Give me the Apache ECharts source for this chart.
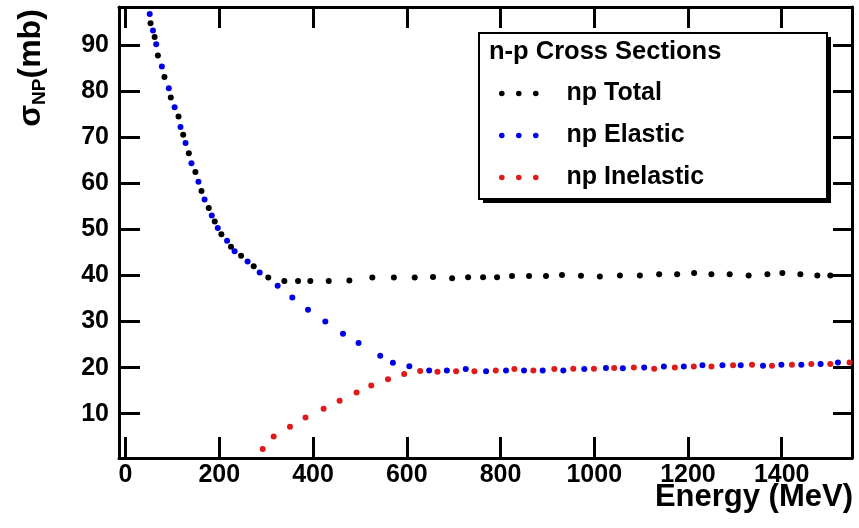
<!DOCTYPE html>
<html>
<head>
<meta charset="utf-8">
<script src="https://cdn.jsdelivr.net/npm/echarts@6/dist/echarts.min.js"></script>
<style>
html,body{margin:0;padding:0;background:#fff;}
#chart{width:859px;height:528px;}
</style>
</head>
<body>
<div id="chart"></div>
<script>
// ---- data (Energy MeV, cross section mb) ----
const npTotal = [
  [53.3,94.7],[62,91.7],[69,87.7],[83,83.0],[96.5,78.6],[113,74.45],[123,70.5],[135,66.5],
  [149,62.4],[162,58.3],[177.5,54.6],[190.3,51.7],[204.5,48.9],[225,46.2],[246.5,44.25],
  [273.4,42.0],[304.5,39.55],[338.8,38.8],[368,38.8],[394.2,38.8],[433.5,38.8],[477.5,38.9],
  [526.5,39.55],[572.5,39.55],[617,39.55],[656,39.65],[696.8,39.4],[730.9,39.6],[762.8,39.6],
  [792.7,39.6],[824.6,39.85],[860.9,39.85],[897.1,39.85],[931.2,40.1],[971.7,39.9],[1012,39.77],
  [1054.8,39.98],[1097.4,39.98],[1138.5,40.27],[1176.9,40.27],[1213.1,40.5],[1250,40.27],
  [1289,40.27],[1329.5,39.98],[1369.5,40.27],[1401.4,40.5],[1439.8,40.27],[1476,39.98],[1503.7,39.98]
];
const npElastic = [
  [51.5,96.7],[58.5,93.1],[65.4,90.1],[77.5,85.3],[92.3,80.6],[104.7,76.45],[117.2,72.2],[128,68.7],
  [140.6,64.3],[155.5,60.3],[168.6,56.45],[184,53.0],[196.7,50.3],[216.6,47.5],[232.6,45.25],
  [260.4,43.0],[286.2,40.6],[324.5,37.75],[355.8,35.2],[389.3,32.54],[426.2,30.0],[463.9,27.34],
  [497.1,25.32],[543.4,22.6],[570.4,21.05],[605.5,20.3],[647.8,19.4],[685.5,19.4],[725.9,19.7],
  [769.2,19.2],[811.8,19.4],[850.2,19.4],[890,19.4],[934,19.4],[978.7,19.7],[1025,19.9],[1061,19.85],
  [1106.6,20.0],[1148.6,20.25],[1191.1,20.25],[1230.9,20.5],[1273.6,20.5],[1312.6,20.5],[1360.1,20.4],
  [1399.3,20.6],[1441.9,20.6],[1483,20.8],[1520,21.1]
];
const npInelastic = [
  [292.6,2.34],[316,5.07],[350.8,7.15],[384,9.2],[422.6,11.1],[456.7,12.8],[492.9,14.6],[524.2,16.1],
  [560,17.5],[594.5,18.6],[628.6,19.25],[665.5,19.1],[705.3,19.2],[744.3,19.2],[789.9,19.4],[829.6,19.7],
  [870.1,19.4],[914.8,19.7],[955.3,19.75],[999.4,19.75],[1042.6,19.9],[1084.6,20.0],[1127.9,19.75],
  [1172,20.0],[1212.4,20.25],[1250.1,20.25],[1296.2,20.5],[1336.7,20.6],[1379.3,20.4],[1421.9,20.6],
  [1463.2,20.8],[1503.7,20.8],[1544.8,21.1]
];
const xTicks = [0,200,400,600,800,1000,1200,1400];
const yTicks = [10,20,30,40,50,60,70,80,90];
const seriesNames = ['np Total','np Elastic','np Inelastic'];
const legendTitle = 'n-p Cross Sections';
const xTitle = 'Energy (MeV)';

const FONT = '"Liberation Sans", Arial, Helvetica, sans-serif';
const colors = ['#000000','#0000e6','#e01a1a'];
const threeDots = 'path://M0,2.8a2.8,2.8 0 1,0 5.6,0a2.8,2.8 0 1,0 -5.6,0Z M17,2.8a2.8,2.8 0 1,0 5.6,0a2.8,2.8 0 1,0 -5.6,0Z M34,2.8a2.8,2.8 0 1,0 5.6,0a2.8,2.8 0 1,0 -5.6,0Z';

const axisLine = {show:true, onZero:false, lineStyle:{color:'#000', width:3}};
const tickStyle = {color:'#000', width:3};
const labelStyle = {color:'#000', fontSize:25, fontWeight:'bold', fontFamily:FONT, formatter:v=>String(v)};

const chart = echarts.init(document.getElementById('chart'), null, {renderer:'canvas'});
chart.setOption({
  animation:false,
  backgroundColor:'#fff',
  grid:{left:119, right:7, top:7, bottom:70, containLabel:false},
  xAxis:[
    {type:'value', position:'bottom', min:-14, max:1550,
     axisLine:axisLine,
     axisTick:{show:true, inside:true, length:21, lineStyle:tickStyle, customValues:xTicks},
     axisLabel:Object.assign({margin:5, customValues:xTicks}, labelStyle),
     splitLine:{show:false}},
    {type:'value', position:'top', min:-14, max:1550,
     axisLine:axisLine,
     axisTick:{show:true, inside:true, length:21, lineStyle:tickStyle, customValues:xTicks},
     axisLabel:{show:false},
     splitLine:{show:false}}
  ],
  yAxis:[
    {type:'value', position:'left', min:0.4, max:98.2,
     axisLine:axisLine,
     axisTick:{show:true, inside:true, length:21, lineStyle:tickStyle, customValues:yTicks},
     axisLabel:Object.assign({margin:10, customValues:yTicks}, labelStyle),
     splitLine:{show:false}},
    {type:'value', position:'right', min:0.4, max:98.2,
     axisLine:axisLine,
     axisTick:{show:true, inside:true, length:19, lineStyle:tickStyle, customValues:yTicks},
     axisLabel:{show:false},
     splitLine:{show:false}}
  ],
  legend:{
    show:true, orient:'vertical', left:499, top:81, padding:0, itemGap:17,
    itemWidth:39.6, itemHeight:5.6, z:10,
    textStyle:{color:'#000', fontSize:25, fontWeight:'bold', fontFamily:FONT, padding:[0,0,0,23]},
    data:seriesNames.map(n=>({name:n, icon:threeDots, itemStyle:{opacity:1}}))
  },
  graphic:[
    {type:'rect', z:5, shape:{x:483, y:37, width:348, height:166}, style:{fill:'#000'}},
    {type:'rect', z:5, shape:{x:479, y:33, width:348, height:166}, style:{fill:'#fff', stroke:'#000', lineWidth:2}},
    {type:'text', z:6, x:489, y:52, style:{text:legendTitle, fill:'#000', font:'bold 25.5px '+FONT, align:'left', verticalAlign:'middle'}},
    {type:'text', z:6, x:853, y:497, style:{text:xTitle, fill:'#000', font:'bold 31px '+FONT, align:'right', verticalAlign:'middle'}},
    {type:'text', z:6, x:31, y:68, rotation:Math.PI/2,
     style:{text:'{a|σ}{b|NP}{a|(mb)}', align:'center', verticalAlign:'middle', fill:'#000',
       rich:{
         a:{fontSize:32, fontWeight:'bold', fontFamily:FONT, lineHeight:36, fill:'#000'},
         b:{fontSize:19, fontWeight:'bold', fontFamily:FONT, lineHeight:22, verticalAlign:'bottom', fill:'#000'}
       }}}
  ],
  series:[
    {name:seriesNames[0], type:'scatter', data:npTotal, symbolSize:6, itemStyle:{color:colors[0], opacity:1}, z:3},
    {name:seriesNames[1], type:'scatter', data:npElastic, symbolSize:6, itemStyle:{color:colors[1], opacity:1}, z:3},
    {name:seriesNames[2], type:'scatter', data:npInelastic, symbolSize:6, itemStyle:{color:colors[2], opacity:1}, z:3}
  ]
});
</script>
</body>
</html>
